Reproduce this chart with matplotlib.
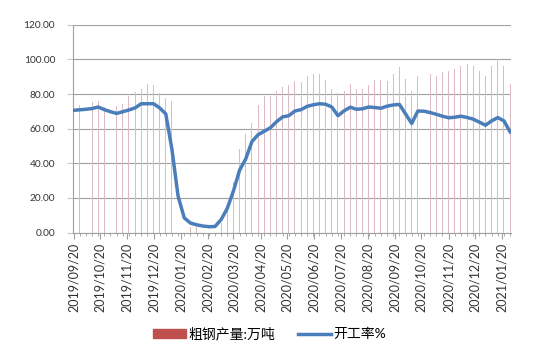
import numpy as np
import pandas as pd
import matplotlib
matplotlib.use("Agg")
import matplotlib.pyplot as plt
import matplotlib.dates as mdates
from matplotlib.patches import Patch
from matplotlib.lines import Line2D

plt.rcParams['font.family'] = ['Lato', 'Noto Sans CJK SC', 'DejaVu Sans']

# weekly dates (Fridays)
dates = pd.date_range("2019-09-20", periods=72, freq="7D")

# 开工率%
rate = [70.6, 70.9, 71.2, 71.6, 72.5, 71.0, 69.8, 68.8, 69.8, 70.8,
        72.0, 74.4, 74.4, 74.4, 72.0, 68.5, 48.0, 21.0, 8.5, 5.5,
        4.5, 3.8, 3.4, 3.5, 7.5, 14.0, 24.0, 36.0, 42.5, 52.5,
        56.5, 58.5, 60.5, 64.0, 66.8, 67.5, 70.2, 71.0, 72.9, 73.8,
        74.4, 74.1, 72.5, 67.5, 70.3, 72.4, 71.2, 71.5, 72.5, 72.2,
        71.8, 73.0, 73.7, 74.0, 68.5, 63.0, 70.2, 70.1, 69.3, 68.3,
        67.2, 66.3, 66.6, 67.2, 66.5, 65.5, 63.8, 62.0, 64.5, 66.4,
        64.5, 58.2]

# 粗钢产量:万吨
output = [72.0, 73.5, np.nan, 75.4, 76.0, 72.5, np.nan, 73.0, 74.4, 79.0,
          81.0, 83.0, 86.0, 85.5, 80.5, 78.0, 76.0, np.nan, np.nan, 3.5,
          3.5, np.nan, np.nan, 4.0, 5.7, 13.0, 29.0, 48.0, 57.0, 63.0,
          73.5, 79.0, 79.0, 81.7, 84.0, 85.0, 87.5, 87.0, 90.7, 91.7,
          91.7, 88.0, 83.0, 80.5, 82.0, 86.0, 83.0, 83.0, 85.0, 88.0,
          88.0, 87.5, 91.7, 95.5, 88.8, 82.0, 90.7, 91.7, 91.7, 90.7,
          92.6, 93.5, 94.5, 96.4, 97.4, 96.4, 93.5, 90.7, 96.4, 100.3,
          96.4, 86.0]

yticks = [0, 20, 40, 60, 80, 100, 120]

fig = plt.figure(figsize=(5.5, 3.54), dpi=100)
ax = fig.add_axes([0.133, 0.343, 0.796, 0.587])

ax.bar(dates, output, width=1.1, color="#dcbcc2", linewidth=0, zorder=2)
ax.plot(dates, rate, color="#4a7ebb", linewidth=2.5, zorder=3)

ax.set_ylim(0, 120)
ax.set_yticks(yticks)
ax.set_yticklabels([f"{v:.2f}" for v in yticks], fontsize=7.3, color="#333333")
ax.grid(axis="y", color="#a0a0a0", linewidth=0.8, zorder=1)
ax.set_axisbelow(True)

ax.set_xlim(dates[0] - pd.Timedelta(days=0.5), dates[-1] + pd.Timedelta(days=1))
ax.xaxis.set_major_locator(mdates.MonthLocator(bymonthday=20))
ax.xaxis.set_major_formatter(mdates.DateFormatter("%Y/%m/%d"))
ax.xaxis.set_minor_locator(mdates.WeekdayLocator(byweekday=mdates.FR))
for lab in ax.get_xticklabels():
    lab.set_rotation(90)
ax.tick_params(axis="x", which="major", labelsize=9, length=4, color="#a0a0a0",
               pad=3, labelcolor="#333333")
ax.tick_params(axis="x", which="minor", length=2, color="#a0a0a0")
ax.tick_params(axis="y", length=4, color="#c8c8c8", pad=9)

for s in ["top", "right"]:
    ax.spines[s].set_visible(False)
for s in ["left", "bottom"]:
    ax.spines[s].set_color("#a0a0a0")
    ax.spines[s].set_linewidth(0.8)

handles = [Patch(color="#c0504d"), Line2D([0], [0], color="#4a7ebb", linewidth=2.5)]
fig.legend(handles, ["粗钢产量:万吨", "开工率%"], loc="center",
           bbox_to_anchor=(0.49, 0.058), ncol=2, frameon=False, fontsize=10,
           handlelength=2.4, handleheight=0.55, handletextpad=0.2, columnspacing=1.6)

fig.savefig("out.png", dpi=100)
